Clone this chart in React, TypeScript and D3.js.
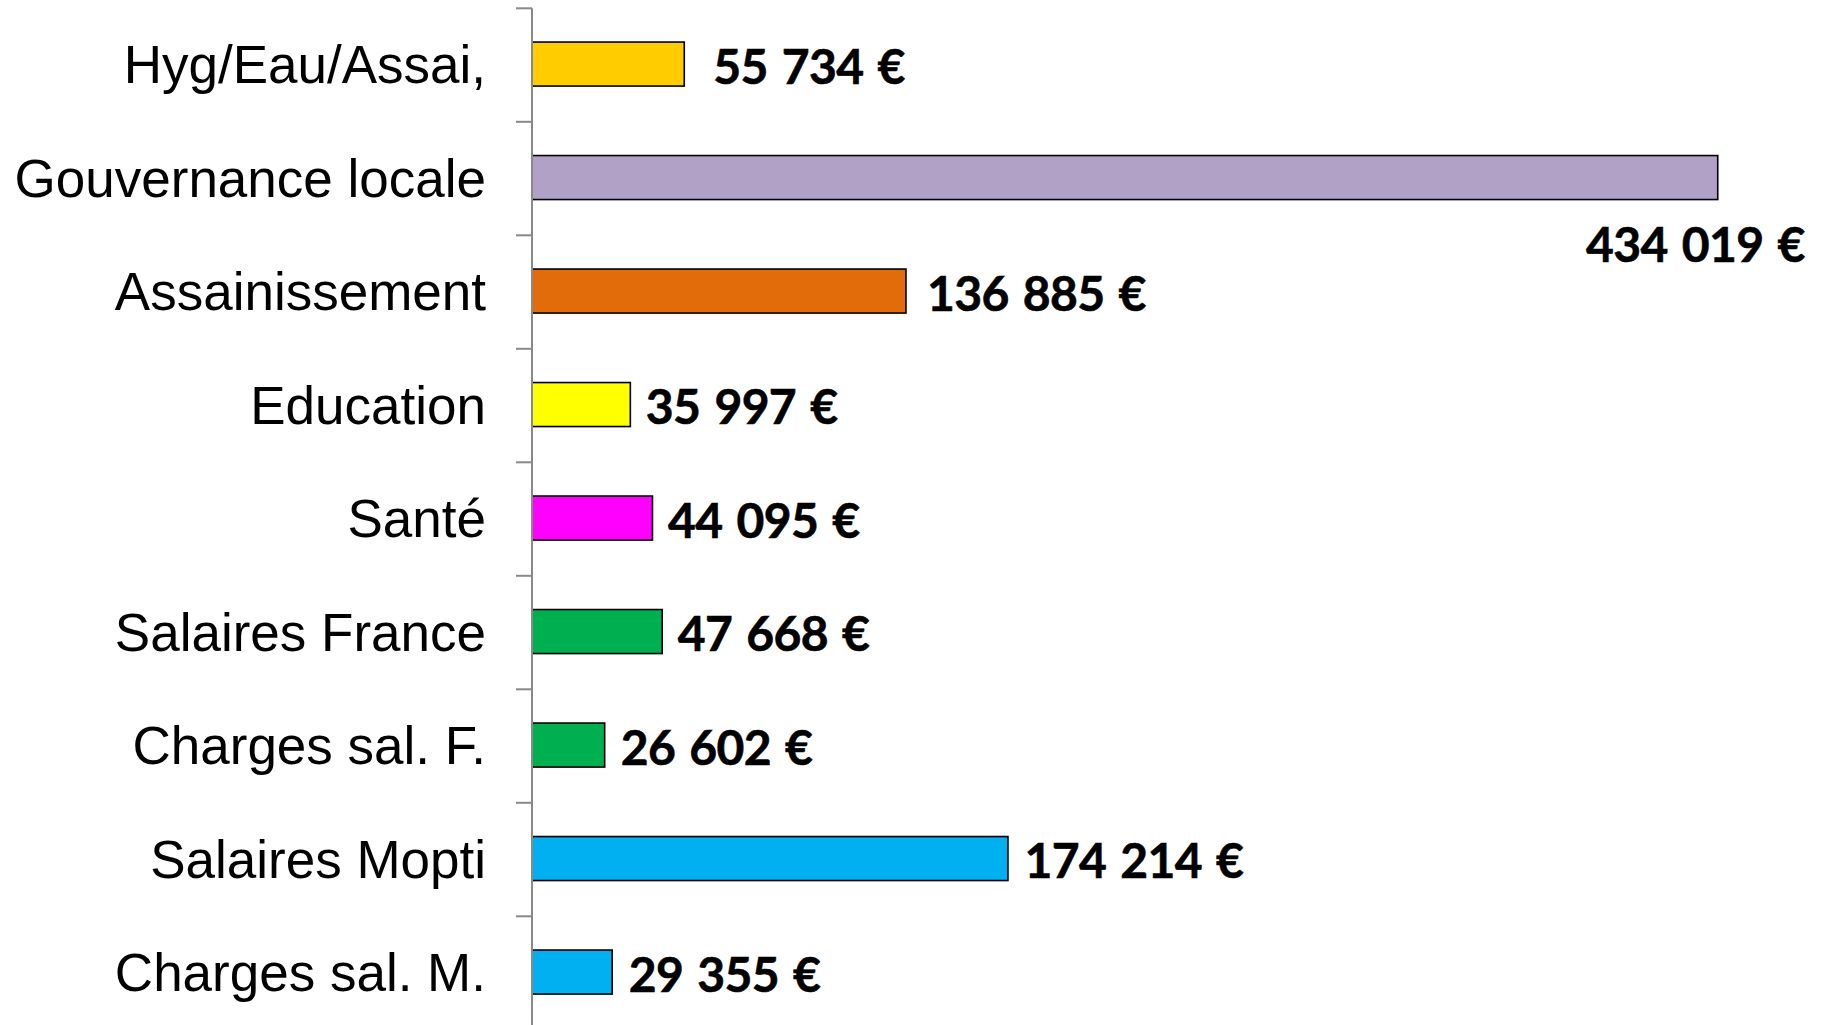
import React from "react";
import * as d3 from "d3";

const categories = [
  "Hyg/Eau/Assai,",
  "Gouvernance locale",
  "Assainissement",
  "Education",
  "Santé",
  "Salaires France",
  "Charges sal. F.",
  "Salaires Mopti",
  "Charges sal. M.",
];
const values = [55734, 434019, 136885, 35997, 44095, 47668, 26602, 174214, 29355];
const valueLabels = [
  "55 734 €",
  "434 019 €",
  "136 885 €",
  "35 997 €",
  "44 095 €",
  "47 668 €",
  "26 602 €",
  "174 214 €",
  "29 355 €",
];
const barColors = [
  "#FFCC00",
  "#B2A1C7",
  "#E36C0A",
  "#FFFF00",
  "#FF00FF",
  "#00B050",
  "#00B050",
  "#00B0F0",
  "#00B0F0",
];

// layout: label placement nudges (data labels were hand-placed in the original)
const labelPlacement = [
  { dx: 29, dy: 0, anchor: "start" },
  { dx: 87, dy: 65, anchor: "end" },
  { dx: 21, dy: 0, anchor: "start" },
  { dx: 15.5, dy: 0, anchor: "start" },
  { dx: 15.5, dy: 0, anchor: "start" },
  { dx: 15.5, dy: 0, anchor: "start" },
  { dx: 16, dy: 0, anchor: "start" },
  { dx: 16.5, dy: 0, anchor: "start" },
  { dx: 16.5, dy: 0, anchor: "start" },
];

const W = 1827;
const H = 1025;
const AXIS_X = 532;
const TOP = 8.3;
const STEP = 113.5;

export default function App() {
  const x = d3.scaleLinear().domain([0, 500000]).range([AXIS_X, 1898]);
  const band = d3
    .scaleBand<string>()
    .domain(categories)
    .range([TOP, TOP + STEP * categories.length]);

  const bh = 44;

  return (
    <div style={{ position: "fixed", left: 0, top: 0, width: W, height: H, background: "#fff" }}>
      <svg width={W} height={H} style={{ display: "block" }}>
        {/* bars */}
        {categories.map((c, i) => {
          const cy = (band(c) as number) + STEP / 2 - 1;
          return (
            <rect
              key={c}
              x={x(0)}
              y={cy - bh / 2}
              width={x(values[i]) - x(0)}
              height={bh}
              fill={barColors[i]}
              stroke="#000"
              strokeWidth={1.6}
            />
          );
        })}
        {/* axis */}
        <line x1={AXIS_X} x2={AXIS_X} y1={TOP} y2={TOP + STEP * categories.length} stroke="#898989" strokeWidth={2} />
        {d3.range(categories.length + 1).map((k) => {
          const ty = TOP + STEP * k;
          return <line key={k} x1={AXIS_X - 16} x2={AXIS_X} y1={ty} y2={ty} stroke="#898989" strokeWidth={2} />;
        })}
        {/* category labels */}
        {categories.map((c) => {
          const cy = (band(c) as number) + STEP / 2 - 1;
          return (
            <text
              key={c}
              x={486}
              y={cy}
              dy="0.36em"
              textAnchor="end"
              fontFamily="'Liberation Sans', Arial, sans-serif"
              fontSize={53}
              fill="#000"
            >
              {c}
            </text>
          );
        })}
        {/* value labels */}
        {categories.map((c, i) => {
          const cy = (band(c) as number) + STEP / 2 - 1;
          const p = labelPlacement[i];
          return (
            <text
              key={c}
              x={x(values[i]) + p.dx}
              y={cy + p.dy}
              dy="0.41em"
              textAnchor={p.anchor as any}
              fontFamily="Lato, 'Open Sans', sans-serif"
              fontWeight={700}
              fontSize={48}
              letterSpacing={-0.6}
              wordSpacing={3}
              stroke="#000"
              strokeWidth={0.6}
              fill="#000"
            >
              {valueLabels[i]}
            </text>
          );
        })}
      </svg>
    </div>
  );
}
